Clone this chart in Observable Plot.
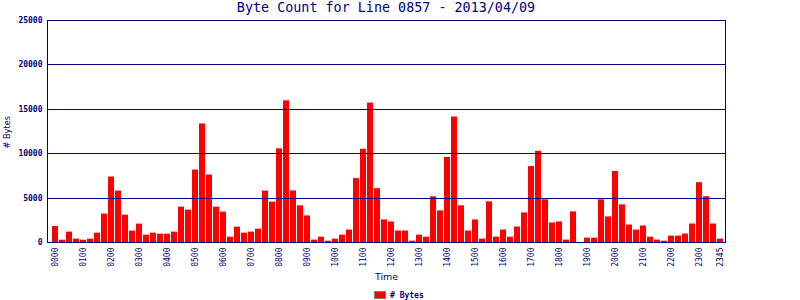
<!DOCTYPE html>
<html>
<head>
<meta charset="utf-8">
<script src="https://cdn.jsdelivr.net/npm/d3@7"></script>
<script src="https://cdn.jsdelivr.net/npm/@observablehq/plot@0.6"></script>
<style>
  html, body { margin: 0; padding: 0; background: #fff; }
  #wrap { position: relative; width: 800px; height: 300px; overflow: hidden; }
  #title { position: absolute; left: 0; top: 0; width: 772px; text-align: center;
           font: 13.4px "DejaVu Sans Mono", monospace; color: #000080; line-height: 16px; }
  #legend { position: absolute; left: 374px; top: 290px; height: 10px;
            font: bold 8px "DejaVu Sans Mono", monospace; color: #000080; display: flex; align-items: center; }
  #legend .sw { width: 10px; height: 6px; background: #ff0000; border: 1px solid #808080; margin-right: 4px; }
</style>
</head>
<body>
<div id="wrap">
  <div id="chart"></div>
  <div id="title">Byte Count for Line 0857 - 2013/04/09</div>
  <div id="legend"><span class="sw"></span><span># Bytes</span></div>
</div>
<script>
const times = [
  "0000","0015","0030","0045","0100","0115","0130","0145",
  "0200","0215","0230","0245","0300","0315","0330","0345",
  "0400","0415","0430","0445","0500","0515","0530","0545",
  "0600","0615","0630","0645","0700","0715","0730","0745",
  "0800","0815","0830","0845","0900","0915","0930","0945",
  "1000","1015","1030","1045","1100","1115","1130","1145",
  "1200","1215","1230","1245","1300","1315","1330","1345",
  "1400","1415","1430","1445","1500","1515","1530","1545",
  "1600","1615","1630","1645","1700","1715","1730","1745",
  "1800","1815","1830","1845","1900","1915","1930","1945",
  "2000","2015","2030","2045","2100","2115","2130","2145",
  "2200","2215","2230","2245","2300","2315","2330","2345"
];
const bytes = [
  1800, 260, 1170, 380, 260, 380, 1050, 3200,
  7370, 5790, 3080, 1280, 2070, 830, 1050, 940,
  940, 1170, 3980, 3650, 8160, 13350, 7590, 3980,
  3420, 600, 1730, 1050, 1170, 1500, 5790, 4550,
  10550, 15950, 5810, 4130, 2990, 270, 600, 150,
  380, 830, 1400, 7200, 10500, 15700, 6060, 2540,
  2310, 1290, 1290, 150, 830, 600, 5150, 3560,
  9580, 14130, 4130, 1290, 2540, 380, 4580, 600,
  1400, 600, 1740, 3330, 8560, 10270, 4810, 2200,
  2310, 270, 3450, 0, 490, 490, 4810, 2880,
  7990, 4240, 1970, 1400, 1860, 600, 270, 150,
  720, 720, 950, 2080, 6740, 5150, 2080, 380
];
const xTickLabels = ["0000","0100","0200","0300","0400","0500","0600","0700","0800","0900","1000","1100",
  "1200","1300","1400","1500","1600","1700","1800","1900","2000","2100","2200","2300","2345"];
const yTicks = [0, 5000, 10000, 15000, 20000, 25000];
const yLabel = "# Bytes";
const xLabel = "Time";

const data = times.map((t, i) => ({time: t, bytes: bytes[i]}));
const navy = "#000080";
const mono = "DejaVu Sans Mono";
const sans = "DejaVu Sans";

const chart = Plot.plot({
  width: 800,
  height: 300,
  marginTop: 20,
  marginBottom: 58,
  marginLeft: 47,
  marginRight: 75,
  style: {background: "#fff", overflow: "visible"},
  x: {type: "band", domain: times, paddingInner: 1/7, paddingOuter: 0, insetLeft: 4, insetRight: 2},
  y: {domain: [0, 25000]},
  marks: [
    Plot.barY(data, {x: "time", y: "bytes", fill: "#ff0000"}),
    Plot.ruleY(yTicks, {stroke: navy, strokeWidth: 1, shapeRendering: "crispEdges"}),
    Plot.frame({stroke: navy, strokeWidth: 1, shapeRendering: "crispEdges"}),
    Plot.axisY({ticks: yTicks, tickSize: 0, tickPadding: 5, tickFormat: d => String(d),
      fontFamily: mono, fontWeight: "bold", fontSize: 8, fill: navy, label: null}),
    Plot.axisX({ticks: xTickLabels, tickRotate: -90, tickSize: 0, tickPadding: 5,
      fontFamily: mono, fontSize: 8, fill: navy, label: null}),
    Plot.text([xLabel], {frameAnchor: "bottom", dy: 37, fontFamily: sans, fontSize: 9.5, fill: navy}),
    Plot.text([yLabel], {frameAnchor: "left", rotate: -90, dx: -40, dy: 17, fontFamily: sans, fontSize: 8.2, fill: navy})
  ]
});
document.getElementById("chart").appendChild(chart);
</script>
</body>
</html>
